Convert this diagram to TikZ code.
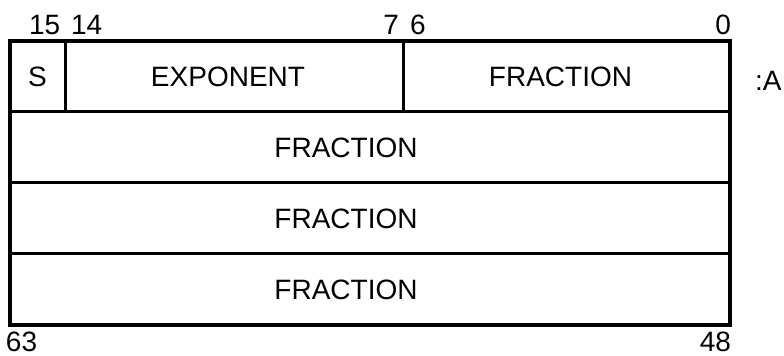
\documentclass[tikz,border=0pt]{standalone}
\usepackage{fontspec}
\setmainfont{Liberation Sans}
\usetikzlibrary{positioning}

\tikzset{
    field/.style={draw, line width=2.25pt, inner sep=0pt, outer sep=0pt,
        minimum height=53.25pt},
    bitnum/.style={inner sep=0pt, outer sep=0pt},
}

\begin{document}
\begin{tikzpicture}[x=0.75pt, y=0.75pt, font=\fontsize{21}{25}\selectfont]
    \useasboundingbox (0,0) rectangle (784,356);
    % first word: sign, exponent and high fraction
    \node [field, minimum width=41.25pt, anchor=north west] (s) at (10,315) {S};
    \node [field, minimum width=253.5pt, right=0pt of s] (exp) {};
    \node [field, minimum width=245.25pt, right=0pt of exp] (fraca) {};
    % remaining words
    \node [field, minimum width=540pt, anchor=north west] (fracb) at (s.south west) {};
    \node [field, minimum width=540pt, below=0pt of fracb] (fracc) {};
    \node [field, minimum width=540pt, below=0pt of fracc] (fracd) {};
    \draw [line width=3pt] (s.north west) rectangle (fracd.south east);
    % field names
    \node [bitnum, xshift=-4.5pt] (texp) at (exp) {EXPONENT};
    \node [bitnum, xshift=-4.5pt] (tfraca) at (fraca) {FRACTION};
    \node [bitnum, xshift=-18pt] (tfracb) at (fracb) {FRACTION};
    \node [bitnum, xshift=-18pt] (tfracc) at (fracc) {FRACTION};
    \node [bitnum, xshift=-18pt] (tfracd) at (fracd) {FRACTION};
    % bit numbers
    \node [bitnum, anchor=base west] (b15) at (29,321) {15};
    \node [bitnum, anchor=base west] (b14) at (71,321) {14};
    \node [bitnum, anchor=base east] (b7) at (399,321) {7};
    \node [bitnum, anchor=base west] (b6) at (410,321) {6};
    \node [bitnum, anchor=base east] (b0) at (731,321) {0};
    \node [bitnum, anchor=base west] (b63) at (6,4) {63};
    \node [bitnum, anchor=base east] (b48) at (731,4) {48};
    \node [bitnum, anchor=base west] (addr) at (755,265) {:A};
\end{tikzpicture}
\end{document}
